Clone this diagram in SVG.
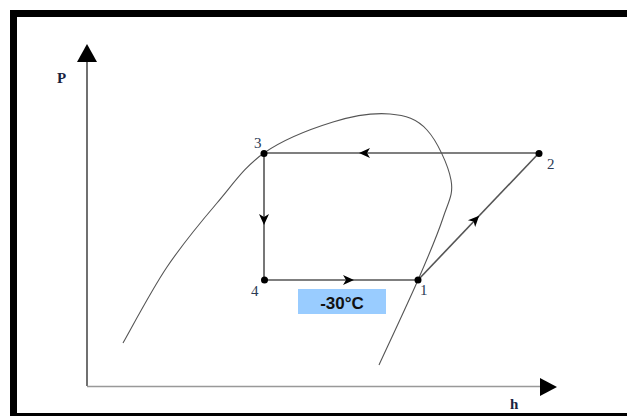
<svg xmlns="http://www.w3.org/2000/svg" width="627" height="416" viewBox="0 0 627 416">
  <style>
    .frame { fill: #000; }
    .axis-y { stroke: #111; stroke-width: 1.2; fill: none; }
    .axis-x { stroke: #999; stroke-width: 1.6; fill: none; }
    .dome { stroke: #555; stroke-width: 1.1; fill: none; }
    .cycle { stroke: #555; stroke-width: 1.6; fill: none; }
    .pt { fill: #000; }
    .num { font-family: "Liberation Serif", serif; font-size: 15px; fill: #2b3a55; }
    .axlab { font-family: "Liberation Serif", serif; font-size: 15px; font-weight: bold; fill: #1a2340; }
    .temp { font-family: "Liberation Sans", Arial, sans-serif; font-size: 17px; font-weight: bold; fill: #111; }
  </style>
  <defs>
    <!-- barbed flow arrow, drawn pointing along +x -->
    <path id="flow" d="M6,0 L-5,-5 L-2,0 L-5,5 Z" fill="#000"/>
  </defs>

  <rect width="627" height="416" fill="#fff"/>

  <!-- page frame -->
  <rect class="frame" x="10" y="10" width="617" height="7"/>
  <rect class="frame" x="10" y="10" width="7" height="406"/>
  <rect class="frame" x="10" y="413" width="617" height="3"/>

  <!-- axes -->
  <g id="axes">
    <line class="axis-y" x1="87" y1="386" x2="87" y2="60"/>
    <polygon points="87,44 77,62 97,62" fill="#000"/>
    <line class="axis-x" x1="87" y1="386.5" x2="542" y2="386.5"/>
    <polygon points="557,387 540,378 540,396" fill="#000"/>
    <text class="axlab" x="57" y="83">P</text>
    <text class="axlab" x="510" y="409">h</text>
  </g>

  <!-- saturation dome -->
  <g id="dome">
    <path class="dome" d="M123,343 C130.3,330.3 151.3,290.3 167,267 C182.7,243.7 200.8,222 217,203 C233.2,184 244.7,166.5 264,153 C283.3,139.5 312,128.5 333,122 C354,115.5 374.3,112.7 390,114 C405.7,115.3 416.8,119 427,130 C437.2,141 448.3,165.3 451,180 C453.7,194.7 448.5,201.3 443,218 C437.5,234.7 428.7,255.5 418,280 C407.3,304.5 385.5,350.8 379,365"/>
  </g>

  <!-- cycle connectors -->
  <g id="connectors">
    <line class="cycle" x1="264" y1="153" x2="539" y2="153"/>
    <line class="cycle" x1="264" y1="153" x2="264" y2="280"/>
    <line class="cycle" x1="264" y1="280" x2="418" y2="280"/>
    <line class="cycle" x1="418" y1="280" x2="539" y2="153"/>
    <use href="#flow" transform="translate(365,153) rotate(180)"/>
    <use href="#flow" transform="translate(264,219) rotate(90)"/>
    <use href="#flow" transform="translate(348,280)"/>
    <use href="#flow" transform="translate(475,220) rotate(-46.4)"/>
  </g>

  <!-- state points -->
  <g id="state1">
    <circle class="pt" cx="418" cy="280" r="3.5"/>
    <text class="num" x="420" y="295">1</text>
  </g>
  <g id="state2">
    <circle class="pt" cx="539" cy="153.5" r="3.5"/>
    <text class="num" x="547" y="169">2</text>
  </g>
  <g id="state3">
    <circle class="pt" cx="264" cy="153.5" r="3.5"/>
    <text class="num" x="254" y="148">3</text>
  </g>
  <g id="state4">
    <circle class="pt" cx="264.5" cy="280" r="3.5"/>
    <text class="num" x="251" y="296">4</text>
  </g>

  <!-- evaporating temperature tag -->
  <g id="temp">
    <rect x="298" y="289" width="88" height="25" fill="#99ccff"/>
    <text class="temp" x="342" y="309" text-anchor="middle">-30°C</text>
  </g>
</svg>
